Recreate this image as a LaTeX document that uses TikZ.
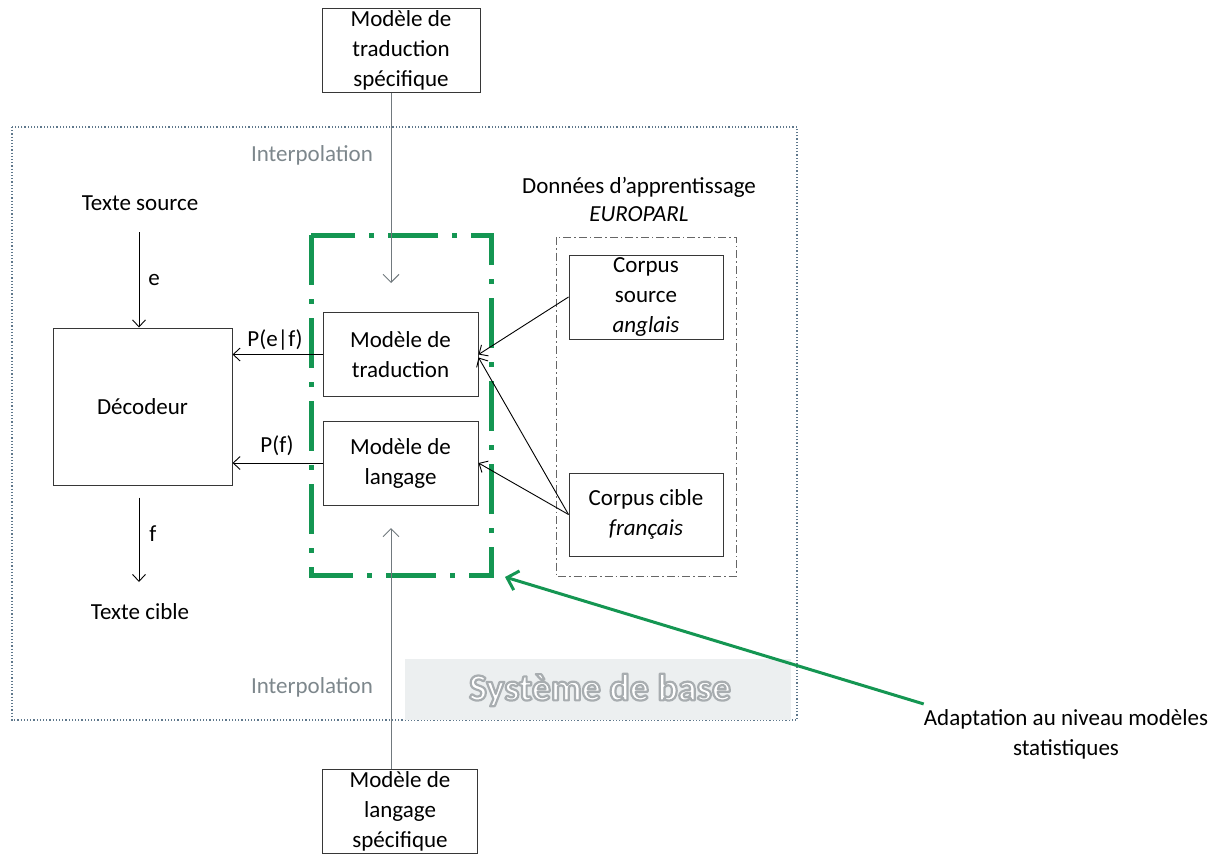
\documentclass[tikz,border=0pt]{standalone}
\usepackage{fontspec}
\setmainfont{Carlito}
\usetikzlibrary{arrows.meta,calc}
\definecolor{gr}{RGB}{20,150,82}
\definecolor{framec}{RGB}{95,120,140}
\definecolor{bordc}{RGB}{55,55,55}
\definecolor{interp}{RGB}{125,135,140}
\definecolor{wm}{RGB}{236,239,240}
\newcommand{\outlinedtext}[1]{\special{pdf:literal direct 2 Tr 2.2 w 1 j 0.66 0.68 0.69 RG}#1\special{pdf:literal direct 0 Tr}}
\tikzset{
  every node/.style={font=\fontsize{23}{30}\selectfont},
  box/.style={draw=bordc, line width=1pt, align=center, minimum width=155pt, minimum height=84pt, inner sep=0pt},
  lbl/.style={align=center, inner sep=0pt},
  blk/.style={draw=black, line width=0.9pt, -{Straight Barb[length=7pt,width=13pt,line width=0.9pt]}},
  gry/.style={draw=interp!90!black, line width=1pt, -{Straight Barb[length=8pt,width=16pt,line width=1pt]}},
}
\begin{document}
\begin{tikzpicture}[x=1pt,y=-1pt]
\useasboundingbox (0,0) rectangle (1225,854);
% outer frame
\draw[framec, line width=1.2pt, dotted] (12,127) rectangle (797,720);
% watermark
\fill[wm] (405,659) rectangle (791,720);
\node[lbl, text=white, font=\bfseries\fontsize{38}{40}\selectfont] (sb) at (600,690) {\outlinedtext{Système de base}};
% interpolation labels
\node[lbl, text=interp] (int1) at (312,155) {Interpolation};
\node[lbl, text=interp] (int2) at (312,687) {Interpolation};
% boxes
\node[box, minimum width=158pt] (topbox) at (401,50) {Modèle de\\traduction\\spécifique};
\node[box] (botbox) at (400,811) {Modèle de\\langage\\spécifique};
\node[box] (trad) at (400.5,354.5) {Modèle de\\traduction};
\node[box] (lang) at (400.5,463) {Modèle de\\langage};
\node[box, minimum width=179pt, minimum height=157pt] (dec) at (142.5,406.5) {Décodeur};
\node[box, minimum width=154pt] (csrc) at (646,297) {Corpus\\source\\\textit{anglais}};
\node[box, minimum width=154pt, minimum height=83pt] (ccib) at (646,514.5) {Corpus cible\\\textit{français}};
% green dash-dot frame
\draw[gr, line width=5pt, dash pattern=on 50pt off 14pt on 5pt off 14pt] (311,235) rectangle (491,575);
% corpus frame
\draw[black!60, line width=0.9pt, dash pattern=on 8pt off 3pt on 1.5pt off 3pt] (556,237) rectangle (736,576);
% texts
\node[lbl] (tsrc) at (140,203) {Texte source};
\node[lbl] (tcib) at (140,612) {Texte cible};
\node[lbl] (don) at (639,187) {Données d’apprentissage};
\node[lbl] (euro) at (639,214) {\textit{EUROPARL}};
\node[lbl] (adapt) at (1066,734) {Adaptation au niveau modèles\\statistiques};
% left arrows
\coordinate (ea) at (139,232);
\coordinate (fb) at (139,582);
\draw[blk] (ea) -- (ea |- dec.north) node[lbl, midway, right=9pt] (elab) {e};
\draw[blk] (fb |- dec.south) ++(0,12) coordinate (fa) -- (fb);
\node[lbl] (flab) at (153,534) {f};
\draw[blk] (trad.west) -- (trad.west -| dec.east);
\node[lbl] (pef) at (275,340) {P(e|f)};
\draw[blk] (lang.west) -- (lang.west -| dec.east);
\node[lbl] (pf) at (277,446) {P(f)};
% corpus arrows
\draw[blk] (csrc.west) -- (trad.east);
\draw[blk] (ccib.west) -- ($(trad.east)+(0,3)$);
\draw[blk] (ccib.west) -- (lang.east);
% interpolation arrows
\coordinate (it) at (391,283);
\coordinate (ib) at (391,528);
\draw[gry] (topbox.south -| it) -- (it);
\draw[gry] (botbox.north -| ib) -- (ib);
% green arrow
\coordinate (gt) at (505,577);
\draw[gr, line width=3pt, -{Straight Barb[length=10pt,width=20pt,line width=3pt]}] (adapt.north west) ++(0,-5) -- (gt);
\end{tikzpicture}
\end{document}
